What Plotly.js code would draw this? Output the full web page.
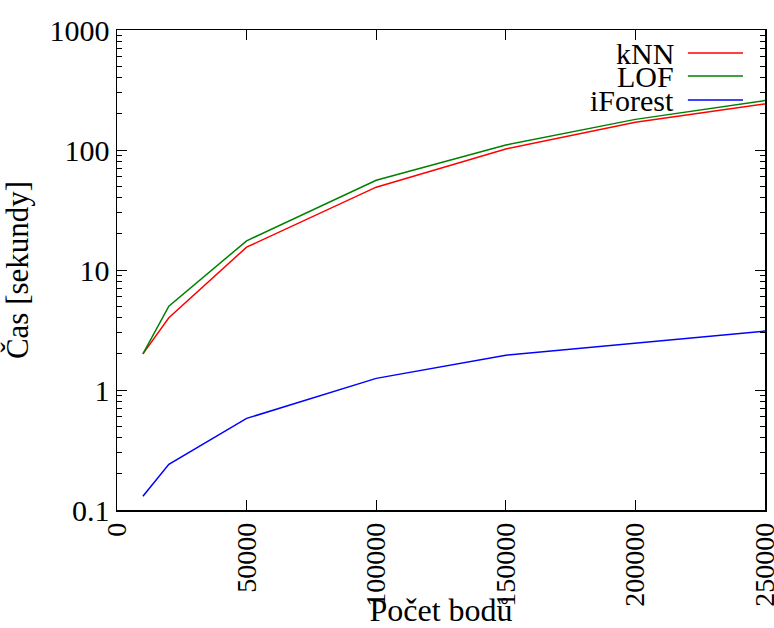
<!DOCTYPE html>
<html>
<head>
<meta charset="utf-8">
<script src="https://cdn.plot.ly/plotly-3.0.1.min.js"></script>
<style>html,body{margin:0;padding:0;background:#fff;}#chart{width:774px;height:628px;}</style>
</head>
<body>
<div id="chart"></div>
<script>
const points = [10000, 20000, 50000, 100000, 150000, 200000, 250000];
const seriesNames = ["kNN", "LOF", "iForest"];
const knnTimes = [2, 4, 15.5, 49, 102, 170, 242];
const lofTimes = [2, 5, 17.5, 56, 110, 180, 258];
const iforestTimes = [0.13, 0.24, 0.58, 1.25, 1.95, 2.45, 3.1];
const seriesColors = ["#ff0000", "#008000", "#0000ff"];
const xTickVals = [0, 50000, 100000, 150000, 200000, 250000];
const xTickText = ["0", "50000", "100000", "150000", "200000", "250000"];
const yTickVals = [0.1, 1, 10, 100, 1000];
const yTickText = ["0.1", "1", "10", "100", "1000"];
const xTitle = "Počet bodů";
const yTitle = "Čas [sekundy]";

const FONT = "'Liberation Serif', 'DejaVu Serif', serif";
const allSeries = [knnTimes, lofTimes, iforestTimes];

const traces = allSeries.map((ys, i) => ({
  x: points, y: ys, type: "scatter", mode: "lines", name: seriesNames[i],
  line: {color: seriesColors[i], width: 1.5}, showlegend: false, hoverinfo: "skip"
}));

const legendRowsY = [0.952, 0.904, 0.854];
const annotations = seriesNames.map((n, i) => ({
  xref: "paper", yref: "paper", x: 0.862, y: legendRowsY[i], xanchor: "right", yanchor: "middle",
  height: 22, valign: "middle",
  text: n, showarrow: false, font: {family: FONT, size: 30, color: "#000"}
}));
const shapes = seriesNames.map((n, i) => ({
  type: "line", xref: "paper", yref: "paper", x0: 0.881, x1: 0.966, y0: legendRowsY[i], y1: legendRowsY[i],
  line: {color: seriesColors[i], width: 1.5}
}));

const layout = {
  width: 774, height: 628,
  margin: {l: 117, r: 9, t: 30, b: 118, pad: 0},
  paper_bgcolor: "#fff", plot_bgcolor: "#fff",
  font: {family: FONT, size: 29, color: "#000"},
  xaxis: {
    range: [0, 250000], tickvals: xTickVals, ticktext: xTickText, tickangle: -90,
    ticks: "inside", ticklen: 10, tickwidth: 1, tickcolor: "#000",
    showline: true, linecolor: "#000", linewidth: 1.5, mirror: "ticks",
    showgrid: false, zeroline: false, automargin: false, ticklabeloverflow: "allow",
    tickfont: {family: FONT, size: 28},
    title: {text: xTitle, font: {family: FONT, size: 32}, standoff: 0}
  },
  yaxis: {
    type: "log", range: [-1, 3], tickvals: yTickVals, ticktext: yTickText,
    ticks: "inside", ticklen: 10, tickwidth: 1, tickcolor: "#000",
    minor: {ticks: "inside", ticklen: 5, tickwidth: 1, tickcolor: "#000", dtick: "D1", showgrid: false},
    showline: true, linecolor: "#000", linewidth: 1.5, mirror: "ticks",
    showgrid: false, zeroline: false, automargin: false,
    tickfont: {family: FONT, size: 30},
    title: {text: yTitle, font: {family: FONT, size: 31}, standoff: 14}
  },
  annotations: annotations,
  shapes: shapes
};

Plotly.newPlot("chart", traces, layout, {staticPlot: true, displayModeBar: false});
</script>
</body>
</html>
